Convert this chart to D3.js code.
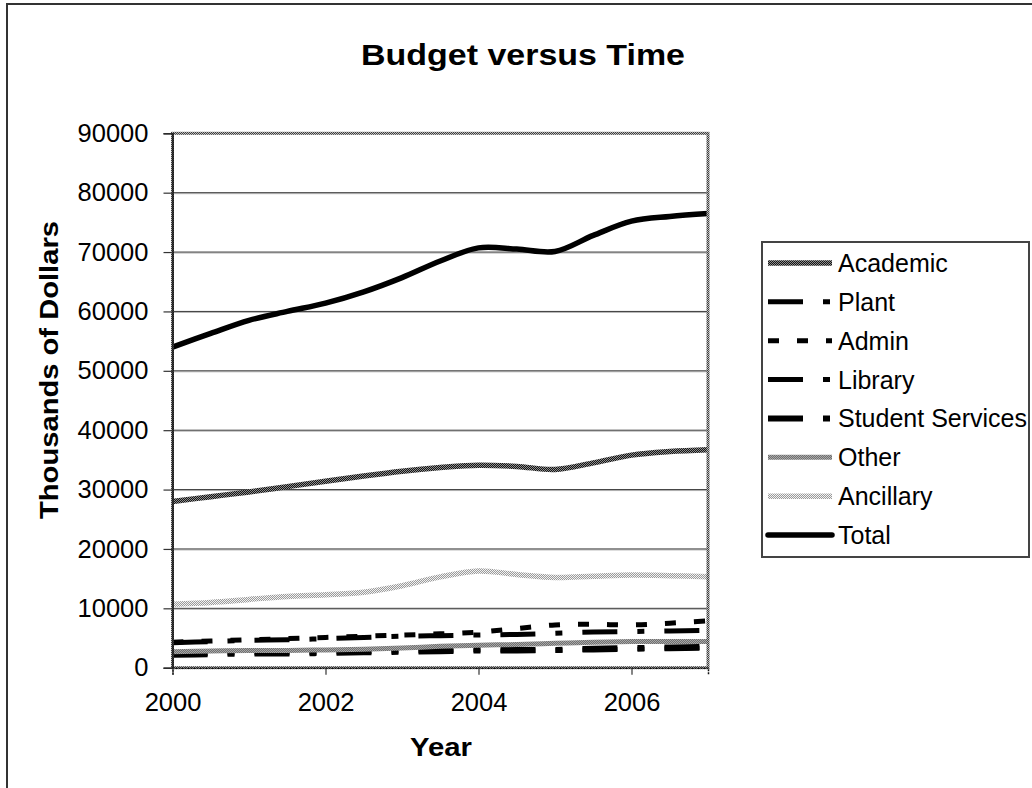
<!DOCTYPE html>
<html>
<head>
<meta charset="utf-8">
<script src="https://cdn.jsdelivr.net/npm/d3@7"></script>
<style>
  body { margin: 0; background: #fff; }
  svg { display: block; }
  text { font-family: "Liberation Sans", Arial, sans-serif; fill: #000; }
</style>
</head>
<body>
<svg id="chart" width="1032" height="788"></svg>
<script>
// Budget by area, thousands of dollars, sampled every half year
const years     = [2000, 2000.5, 2001, 2001.5, 2002, 2002.5, 2003, 2003.5, 2004, 2004.5, 2005, 2005.5, 2006, 2006.5, 2007];
const academic  = [28000, 28800, 29600, 30500, 31400, 32300, 33100, 33700, 34100, 33900, 33400, 34500, 35800, 36400, 36700];
const plant     = [4200, 4400, 4600, 4700, 4900, 5100, 5300, 5400, 5500, 5600, 5800, 6000, 6100, 6200, 6300];
const admin     = [4300, 4500, 4700, 4900, 5100, 5300, 5500, 5700, 6000, 6600, 7200, 7300, 7200, 7500, 7900];
const library   = [2100, 2200, 2300, 2300, 2400, 2500, 2600, 2700, 2800, 2800, 2900, 3000, 3100, 3200, 3300];
const student   = [2400, 2500, 2600, 2600, 2700, 2800, 2900, 3000, 3100, 3000, 3000, 3200, 3300, 3400, 3500];
const other     = [2700, 2800, 2900, 2900, 3000, 3100, 3300, 3600, 3800, 3900, 4100, 4300, 4400, 4400, 4400];
const ancillary = [10700, 11000, 11500, 12000, 12300, 12700, 13800, 15300, 16300, 15700, 15200, 15400, 15600, 15500, 15300];
const total     = [54000, 56300, 58500, 60000, 61400, 63300, 65700, 68500, 70700, 70500, 70100, 72800, 75200, 76000, 76500];

const seriesNames = ["Academic", "Plant", "Admin", "Library", "Student Services", "Other", "Ancillary", "Total"];
const seriesValues = [academic, plant, admin, library, student, other, ancillary, total];
const xTicks = [2000, 2002, 2004, 2006];
const yTicks = [0, 10000, 20000, 30000, 40000, 50000, 60000, 70000, 80000, 90000];

const svg = d3.select("#chart");
const defs = svg.append("defs");

// two-tone dither patterns used as stroke paints
function dither(id, base, dot) {
  const p = defs.append("pattern").attr("id", id)
    .attr("width", 2).attr("height", 2).attr("patternUnits", "userSpaceOnUse");
  p.append("rect").attr("width", 2).attr("height", 2).attr("fill", base);
  p.append("rect").attr("width", 1).attr("height", 1).attr("fill", dot);
  p.append("rect").attr("x", 1).attr("y", 1).attr("width", 1).attr("height", 1).attr("fill", dot);
}
dither("d-academic", "#141414", "#8e8e8e");
dither("d-other", "#6f6f6f", "#a8a8a8");
dither("d-ancillary", "#9a9a9a", "#f2f2f2");
dither("d-frame", "#3c3c3c", "#bdbdbd");

// per-series line styles
const styles = [
  { stroke: "url(#d-academic)", width: 5.5, dash: null },
  { stroke: "#000", width: 5, dash: "35,20,7,20" },
  { stroke: "#000", width: 5, dash: "11,18" },
  { stroke: "#000", width: 5, dash: "35,20,7,20" },
  { stroke: "#000", width: 6, dash: "35,20,7,20" },
  { stroke: "url(#d-other)", width: 5, dash: null },
  { stroke: "url(#d-ancillary)", width: 5.5, dash: null },
  { stroke: "#000", width: 5.5, dash: null }
];

// outer chart frame (runs off the right and bottom edges)
svg.append("rect").attr("x", 7).attr("y", 4).attr("width", 1060).attr("height", 820)
  .attr("fill", "none").attr("stroke", "#333").attr("stroke-width", 2);

const plot = { left: 172.5, right: 708, top: 133.3, bottom: 667.7 };
const x = d3.scaleLinear().domain([2000, 2007]).range([plot.left, plot.right]);
const y = d3.scaleLinear().domain([0, 90000]).range([plot.bottom, plot.top]);

// horizontal gridlines: dark line with a light shadow line under it
const grid = svg.append("g");
yTicks.filter(v => v > 0 && v < 90000).forEach(v => {
  grid.append("line").attr("x1", plot.left).attr("x2", plot.right)
    .attr("y1", y(v) + 1).attr("y2", y(v) + 1).attr("stroke", "#b4b4b4").attr("stroke-width", 1);
  grid.append("line").attr("x1", plot.left).attr("x2", plot.right)
    .attr("y1", y(v)).attr("y2", y(v)).attr("stroke", "#3a3a3a").attr("stroke-width", 1);
});

// series lines
const line = d3.line().x((d, i) => x(years[i])).y(d => y(d)).curve(d3.curveCatmullRom.alpha(0.5));
const lines = svg.append("g");
seriesValues.forEach((vals, i) => {
  const s = styles[i];
  lines.append("path").datum(vals).attr("d", line)
    .attr("fill", "none").attr("stroke", s.stroke).attr("stroke-width", s.width)
    .attr("stroke-dasharray", s.dash).attr("stroke-linejoin", "round");
});

// plot area border
svg.append("rect").attr("x", plot.left).attr("y", plot.top)
  .attr("width", plot.right - plot.left).attr("height", plot.bottom - plot.top)
  .attr("fill", "none").attr("stroke", "url(#d-frame)").attr("stroke-width", 3);

// axes
const yAxis = svg.append("g").attr("transform", `translate(${plot.left},0)`)
  .call(d3.axisLeft(y).tickValues(yTicks).tickFormat(d3.format("d")).tickSize(9).tickPadding(15));
const xAxis = svg.append("g").attr("transform", `translate(0,${plot.bottom})`)
  .call(d3.axisBottom(x).tickValues(xTicks).tickFormat(d3.format("d")).tickSize(7).tickPadding(18));
[yAxis, xAxis].forEach(a => {
  a.select(".domain").attr("stroke", "#111").attr("stroke-width", 1.5);
  a.selectAll(".tick line").attr("stroke", "#333").attr("stroke-width", 1.2);
  a.selectAll(".tick text").attr("font-size", 25.5).attr("font-family", "Liberation Sans, Arial, sans-serif").attr("fill", "#000");
});
xAxis.select(".domain").attr("stroke-dasharray", "2,1");

// titles
svg.append("text").attr("x", 523).attr("y", 65).attr("text-anchor", "middle")
  .attr("font-size", 30).attr("font-weight", "bold")
  .attr("textLength", 324).attr("lengthAdjust", "spacingAndGlyphs")
  .text("Budget versus Time");
svg.append("text").attr("transform", "translate(57.5,370) rotate(-90)").attr("text-anchor", "middle")
  .attr("font-size", 25).attr("font-weight", "bold")
  .attr("textLength", 298).attr("lengthAdjust", "spacingAndGlyphs")
  .text("Thousands of Dollars");
svg.append("text").attr("x", 441).attr("y", 756).attr("text-anchor", "middle")
  .attr("font-size", 25).attr("font-weight", "bold")
  .attr("textLength", 62).attr("lengthAdjust", "spacingAndGlyphs")
  .text("Year");

// legend
const legend = svg.append("g");
legend.append("rect").attr("x", 762).attr("y", 242).attr("width", 267).attr("height", 315)
  .attr("fill", "#fff").attr("stroke", "#444").attr("stroke-width", 2);
const rowY = d3.scalePoint().domain(seriesNames).range([263, 535]);
seriesNames.forEach((name, i) => {
  const s = styles[i];
  const cy = rowY(name);
  legend.append("line").attr("x1", 768).attr("x2", 832).attr("y1", cy).attr("y2", cy)
    .attr("stroke", s.stroke).attr("stroke-width", s.width)
    .attr("stroke-dasharray", s.dash)
    .attr("stroke-linecap", name === "Total" ? "round" : "butt");
  legend.append("text").attr("x", 838).attr("y", cy + 9).attr("font-size", 25).text(name);
});
</script>
</body>
</html>
